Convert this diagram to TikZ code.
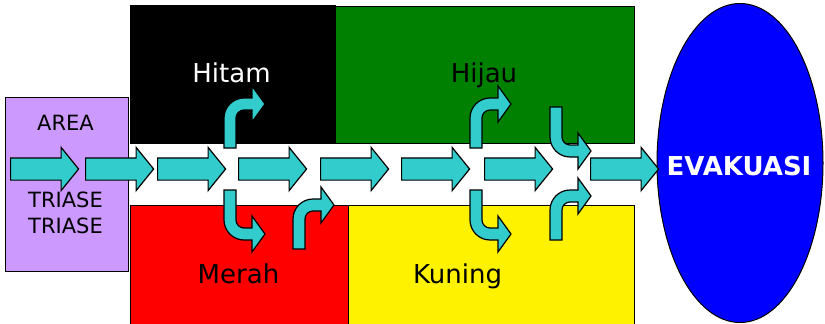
\documentclass[tikz,border=0pt]{standalone}
\usepackage{xcolor}
\usepackage{fontspec}
\setmainfont{DejaVu Sans}
\usepackage{tikz}
\usetikzlibrary{shapes.arrows}

\definecolor{ungu}{HTML}{CC99FF}
\definecolor{tosca}{HTML}{33CCCC}
\definecolor{hijau}{HTML}{008000}

\tikzset{
    zona/.style={draw=black, line width=0.8pt},
    teks/.style={font=\fontsize{26}{30}\selectfont, anchor=base},
    teksarea/.style={font=\fontsize{21}{25}\selectfont, anchor=base},
    panah/.style={single arrow, draw=black, fill=tosca, line width=1.2pt,
        minimum height=68pt, inner xsep=0pt, inner ysep=10.5pt,
        single arrow head extend=10.5pt, single arrow tip angle=102, anchor=west},
    belok/.pic={
        \draw[fill=tosca, line width=1.2pt] (0,0) -- (0,-30)
            .. controls (0,-41) and (9,-50) .. (20,-50) -- (28,-50) -- (28,-62)
            -- (41,-44) -- (28,-26) -- (28,-38) -- (20,-38)
            .. controls (15.6,-38) and (12,-34.4) .. (12,-30) -- (12,0) -- cycle;
    },
}

\begin{document}
\begin{tikzpicture}[x=1pt, y=-1pt]
    \useasboundingbox (0,0) rectangle (825,324);

    % zona warna
    \draw[zona, fill=black] (130,5) rectangle (335,143);
    \draw[zona, fill=hijau] (335,6) rectangle (634,143);
    \draw[zona, fill=red] (130,205) rectangle (348,326);
    \draw[zona, fill=yellow] (348,205) rectangle (634,326);
    \draw[zona, fill=ungu] (5,97) rectangle (128,271);

    \node[teks, text=white] (hitam) at (231.5,82) {Hitam};
    \node[teks] (hijau) at (484,82) {Hijau};
    \node[teks] (merah) at (238.5,283) {Merah};
    \node[teks] (kuning) at (457.5,283) {Kuning};

    \node[teksarea] (area) at (65.5,130) {AREA};
    \node[teksarea] (triase1) at (65.5,207) {TRIASE};
    \node[teksarea] (triase2) at (65.5,233) {TRIASE};

    \draw[line width=1pt, fill=blue] (740,163) ellipse [x radius=83pt, y radius=159.5pt];
    \node[text=white, font=\fontsize{26}{30}\selectfont\bfseries, anchor=base]
        (evakuasi) at (739,175) {EVAKUASI};

    % jalur utama
    \node[panah] (p1) at (10,169) {};
    \node[panah] (p2) at (85,169) {};
    \node[panah] (p3) at (157,169) {};
    \node[panah] (p4) at (238,169) {};
    \node[panah] (p5) at (320,169) {};
    \node[panah] (p6) at (401,169) {};
    \node[panah] (p7) at (484,169) {};
    \node[panah] (p8) at (590,169) {};

    % belokan
    \pic (b1) at (224,148) {belok};
    \pic[yscale=-1] (b2) at (224,190) {belok};
    \pic (b3) at (293,249) {belok};
    \pic (b4) at (470,148) {belok};
    \pic[yscale=-1] (b5) at (470,190) {belok};
    \pic[yscale=-1] (b6) at (550,107) {belok};
    \pic (b7) at (550,240) {belok};
\end{tikzpicture}
\end{document}
